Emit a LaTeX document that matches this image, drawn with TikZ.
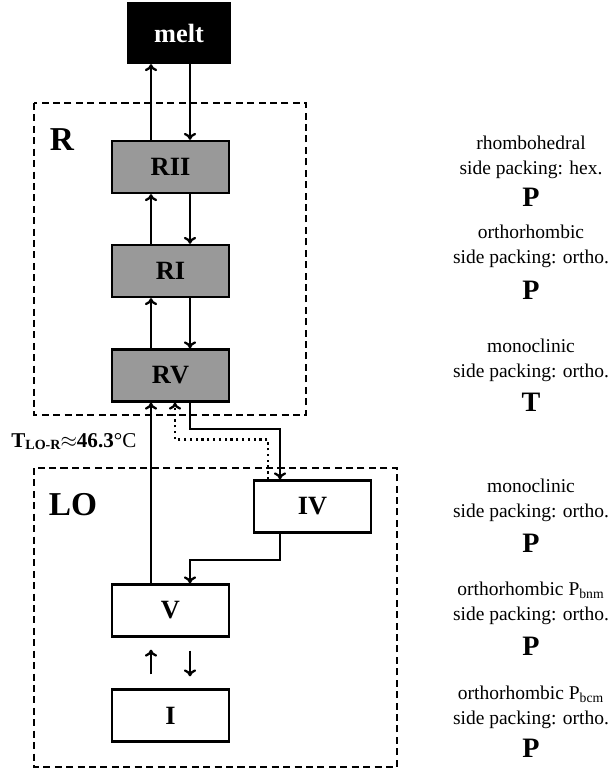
\documentclass[tikz,border=0pt]{standalone}
\usepackage{fontspec}
\setmainfont{Liberation Serif}
\usetikzlibrary{arrows.meta}
\begin{document}
\begin{tikzpicture}[x=0.02cm,y=-0.02cm,>={To[length=4pt,width=7pt]},
  phase/.style={draw,line width=1.3pt,minimum width=2.34cm,minimum height=1.04cm,inner sep=0pt,font=\fontsize{15}{18}\selectfont\bfseries},
  rphase/.style={phase,fill=black!40},
  region/.style={line width=1.3pt,dash pattern=on 4pt off 2.5pt},
  trans/.style={line width=1.3pt,->},
  info/.style={align=center,font=\fontsize{11.1}{14.2}\selectfont},
  sym/.style={font=\fontsize{16}{18}\selectfont\bfseries}]
\useasboundingbox (0,0) rectangle (611,769);
% phase regions
\draw[region] (34,103) rectangle (306,415);
\draw[region] (34,468) rectangle (397,767);
\node[font=\fontsize{19}{22}\selectfont\bfseries] (rlab) at (62,140) {R};
\node[font=\fontsize{19}{22}\selectfont\bfseries] (lolab) at (73,505) {LO};
% phases
\node[phase,fill=black,text=white,minimum width=2.04cm,minimum height=1.2cm] (melt) at (179,33) {melt};
\node[rphase] (RII) at (170.5,167) {RII};
\node[rphase] (RI) at (170.5,271) {RI};
\node[rphase] (RV) at (170.5,375.5) {RV};
\node[phase] (IV) at (312.5,506.5) {IV};
\node[phase] (V) at (170.5,610.5) {V};
\node[phase] (I) at (170.5,715.5) {I};
% transitions
\foreach \lo/\hi in {RII/melt,RI/RII,RV/RI}{
  \draw[trans] ([xshift=-.39cm]\lo.north) -- ([xshift=-.39cm]\lo.north |- \hi.south);
  \draw[trans] ([xshift=.39cm]\lo.north |- \hi.south) -- ([xshift=.39cm]\lo.north);
}
\draw[trans] ([xshift=-.39cm]V.north) -- ([xshift=-.39cm]RV.south);
\draw[trans] ([xshift=.39cm]RV.south) -- ++(0,26) -| ([xshift=-.65cm]IV.north);
\draw[trans,dotted] ([xshift=-.89cm]IV.north) -- ++(0,-40) -| ([xshift=.09cm]RV.south);
\draw[trans] ([xshift=-.65cm]IV.south) -- ++(0,26) -| ([xshift=.39cm]V.north);
\draw[trans] ([xshift=-.39cm,yshift=.28cm]I.north) -- ([xshift=-.39cm,yshift=-.24cm]V.south);
\draw[trans] ([xshift=.39cm,yshift=-.26cm]V.south) -- ([xshift=.39cm,yshift=.24cm]I.north);
\node[anchor=west,inner sep=0pt,font=\fontsize{12}{14}\selectfont] (tlor) at (11,442) {\textbf{T{\fontsize{8}{9}\selectfont\raisebox{-.3ex}{LO-R}}}$\approx$\textbf{46.3}°C};
% structures
\foreach \n/\y/\py/\top/\pk/\s in {1/157/197/rhombohedral/hex./P,2/246/290/orthorhombic/ortho./P,3/360/402/monoclinic/ortho./T,4/500/543/monoclinic/ortho./P,5/603/646/orthorhombic P\textsubscript{bnm}/ortho./P,6/707/748/orthorhombic P\textsubscript{bcm}/ortho./P}{
  \node[info] (info\n) at (531,\y) {\top\\side packing: \pk};
  \node[sym] (sym\n) at (531,\py) {\s};
}
\end{tikzpicture}
\end{document}
